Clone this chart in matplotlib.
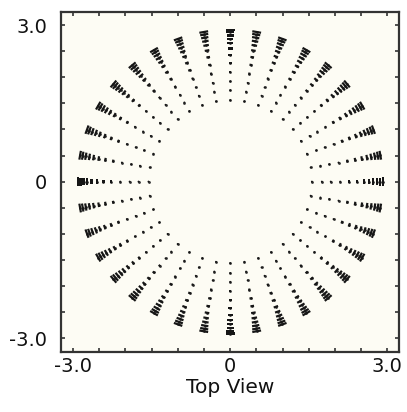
import numpy as np
import matplotlib.pyplot as plt

# 36 spokes, one every 10 degrees
angles_deg = list(range(0, 360, 10))
# radius of each mark along a spoke and the half length of its tangential dash
radii = [1.56, 1.75, 1.92, 2.10, 2.27, 2.42, 2.55, 2.65, 2.73, 2.80, 2.86, 2.91]
half_len = [0.012, 0.014, 0.017, 0.021, 0.027, 0.035, 0.044, 0.053, 0.062, 0.070, 0.078, 0.085]

tick_vals = [-3.0, 0.0, 3.0]
tick_labels = ["-3.0", "0", "3.0"]
minor_vals = np.arange(-3.0, 3.01, 0.5)

plt.rcParams['font.family'] = ['DejaVu Sans']

fig = plt.figure(figsize=(4.07, 4.12), dpi=100)
ax = fig.add_axes([0.150, 0.146, 0.830, 0.825])
ax.set_facecolor("#fdfcf4")

th = np.deg2rad(np.array(angles_deg))[:, None]
r = np.array(radii)[None, :]
h = np.array(half_len)[None, :] * np.ones_like(th)
x = r * np.cos(th)
y = r * np.sin(th)
# tangential direction
u = -np.sin(th) * 2 * h
v = np.cos(th) * 2 * h

ax.scatter(x.ravel(), y.ravel(), s=4, color="#333333", linewidths=0, zorder=2)
ax.quiver(x.ravel(), y.ravel(), u.ravel(), v.ravel(), angles="xy", scale_units="xy",
          scale=1, pivot="middle", headwidth=0, headlength=0, headaxislength=0,
          width=0.0065, color="#161616", zorder=3)

ax.set_xlim(-3.23, 3.22)
ax.set_ylim(-3.26, 3.25)

ax.set_xticks(minor_vals, minor=True)
ax.set_yticks(minor_vals, minor=True)
ax.set_xticks(tick_vals)
ax.set_yticks(tick_vals)
ax.set_xticklabels(tick_labels)
ax.set_yticklabels(tick_labels)
ax.tick_params(which="both", direction="in", top=True, right=True, length=3,
               width=1.2, color="#333333")
ax.tick_params(which="major", labelsize=14, labelcolor="#111111")
ax.tick_params(axis="x", which="major", pad=4)
ax.tick_params(axis="y", which="major", pad=10)
for s in ax.spines.values():
    s.set_linewidth(1.6)
    s.set_color("#333333")

ax.set_xlabel("Top View", fontsize=14.5, labelpad=1, color="#111111")

fig.savefig("out.png", dpi=100)
